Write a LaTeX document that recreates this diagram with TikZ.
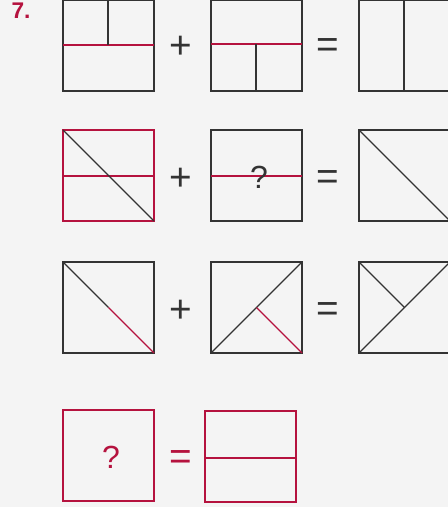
\documentclass[tikz,border=0pt]{standalone}
\usepackage{fontspec}
\setmainfont{Liberation Sans}
\usepackage{tikz}
\definecolor{puzred}{HTML}{B5123E}
\definecolor{puzgray}{HTML}{333333}
\definecolor{paper}{HTML}{F4F4F4}
\tikzset{
  boxline/.style  = {puzgray,line width=1.1pt},
  redbox/.style   = {puzred,line width=1.1pt},
  innerline/.style = {puzgray,line width=0.85pt},
  redline/.style  = {puzred,line width=0.85pt},
  op/.style       = {inner sep=0pt,font=\fontsize{29}{29}\selectfont,puzgray},
  qmark/.style    = {inner sep=0pt,font=\fontsize{24}{24}\selectfont}
}
\newcommand{\tile}[3]{%
  \draw[#1] (#2,#3) rectangle ++(91,91);
}

\begin{document}
\begin{tikzpicture}[x=0.75pt,y=-0.75pt]
  \fill[paper] (0,0) rectangle (448,507);
  \useasboundingbox (0,0) rectangle (448,507);
  \node[inner sep=0pt,font=\fontsize{17}{17}\selectfont\bfseries,puzred] (qnum) at (21,11) {7.};
  % operators of rows 1-3
  \foreach \y/\r in {46/a,178/b,310/c} {
    \node[op] (plus\r) at (181,\y+1) {+};
    \node[op] (eq\r)   at (328,\y+2) {=};
  }
  % row 1
  \tile{boxline}{63}{0}
  \draw[redline]   (63,45) -- (154,45);
  \draw[innerline] (108,0) -- (108,45);
  \tile{boxline}{211}{0}
  \draw[redline]   (211,44) -- (302,44);
  \draw[innerline] (256,44) -- (256,91);
  \tile{boxline}{359}{0}
  \draw[innerline] (404,0) -- (404,91);
  % row 2
  \tile{redbox}{63}{130}
  \draw[redline]   (63,176) -- (154,176);
  \draw[innerline] (63,130) -- (154,221);
  \tile{boxline}{211}{130}
  \draw[redline]   (211,176) -- (302,176);
  \node[qmark,puzgray] (qa) at (259,177) {?};
  \tile{boxline}{359}{130}
  \draw[innerline] (359,130) -- (450,221);
  % row 3
  \tile{boxline}{63}{262}
  \draw[innerline] (63,262) -- (108.5,307.5);
  \draw[redline]   (108.5,307.5) -- (154,353);
  \tile{boxline}{211}{262}
  \draw[innerline] (211,353) -- (302,262);
  \draw[redline]   (256.5,307.5) -- (302,353);
  \tile{boxline}{359}{262}
  \draw[innerline] (359,262) -- (404.5,307.5);
  \draw[innerline] (359,353) -- (450,262);
  % row 4
  \tile{redbox}{63}{410}
  \node[qmark,puzred] (qb) at (111,457) {?};
  \node[op,puzred] (eqd) at (181,460) {=};
  \tile{redbox}{205}{411}
  \draw[redline] (205,458) -- (296,458);
\end{tikzpicture}
\end{document}
